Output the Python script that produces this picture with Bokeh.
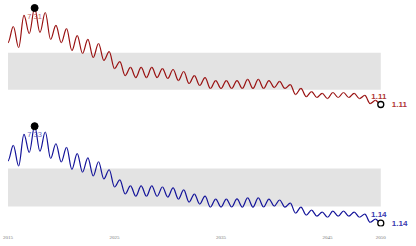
from bokeh.plotting import figure
from bokeh.models import BoxAnnotation, Label, Range1d, FixedTicker, ColumnDataSource
from bokeh.layouts import column
from bokeh.embed import file_html
from bokeh.resources import INLINE

# ---- data ----
years = list(range(2015, 2051))            # January values (seasonal lows)
peak_offset = 0.5                          # mid-year seasonal highs
tick_years = [2015, 2025, 2035, 2045, 2050]

top_lows = [5.09, 4.77, 5.67, 5.74, 5.29, 5.09, 4.58, 4.39, 4.13, 3.94, 3.42, 2.97,
            2.84, 2.84, 2.84, 2.78, 2.65, 2.46, 2.33, 2.14, 2.14, 2.14, 2.14, 2.14,
            2.14, 2.20, 2.14, 1.75, 1.62, 1.56, 1.49, 1.56, 1.56, 1.49, 1.17, 1.11]
top_highs = [6.12, 6.83, 7.31, 7.02, 6.19, 5.99, 5.54, 5.29, 5.03, 4.51, 3.87, 3.49,
             3.49, 3.49, 3.42, 3.36, 3.23, 2.97, 2.84, 2.65, 2.65, 2.65, 2.72, 2.72,
             2.65, 2.59, 2.39, 2.14, 1.94, 1.82, 1.88, 1.88, 1.82, 1.69, 1.37]
top_band = [2.05, 4.43]

bot_lows = [5.12, 4.80, 5.66, 5.73, 5.28, 5.05, 4.58, 4.40, 4.16, 3.97, 3.46, 3.01,
            2.87, 2.87, 2.86, 2.81, 2.68, 2.49, 2.36, 2.17, 2.17, 2.18, 2.17, 2.17,
            2.18, 2.23, 2.17, 1.78, 1.66, 1.59, 1.52, 1.59, 1.59, 1.52, 1.20, 1.14]
bot_highs = [6.10, 6.81, 7.33, 6.96, 6.21, 5.98, 5.58, 5.31, 5.06, 4.55, 3.90, 3.52,
             3.52, 3.52, 3.45, 3.39, 3.26, 3.00, 2.87, 2.68, 2.68, 2.69, 2.75, 2.75,
             2.68, 2.62, 2.42, 2.17, 1.97, 1.85, 1.91, 1.91, 1.85, 1.72, 1.40]
bot_band = [2.21, 4.63]

x_range = Range1d(2014.296, 2053.166)


def sequence(lows, highs):
    t, v = [], []
    for i, y in enumerate(years):
        t.append(y); v.append(lows[i])
        if i < len(highs):
            t.append(y + peak_offset); v.append(highs[i])
    return t, v


def curve_source(t, v):
    k = 1 - 2 / 3.141592653589793
    d = dict(x0=[], y0=[], x1=[], y1=[], cx0=[], cy0=[], cx1=[], cy1=[])
    for i in range(len(t) - 1):
        h = t[i + 1] - t[i]
        d["x0"].append(t[i]); d["y0"].append(v[i])
        d["x1"].append(t[i + 1]); d["y1"].append(v[i + 1])
        d["cx0"].append(t[i] + k * h); d["cy0"].append(v[i])
        d["cx1"].append(t[i + 1] - k * h); d["cy1"].append(v[i + 1])
    return ColumnDataSource(d)


def panel(lows, highs, band, color, label_color, y_rng, frame_h, with_axis):
    p = figure(frame_width=414, frame_height=frame_h, x_range=x_range,
               y_range=Range1d(*y_rng), output_backend="svg", toolbar_location=None,
               x_axis_location="below" if with_axis else None, y_axis_location=None,
               min_border_left=0, min_border_right=0, min_border_top=0,
               min_border_bottom=0)
    p.outline_line_color = None
    p.background_fill_color = "white"
    p.border_fill_color = "white"
    p.xgrid.grid_line_color = None
    p.ygrid.grid_line_color = None

    p.add_layout(BoxAnnotation(left=years[0], right=years[-1], bottom=band[0],
                               top=band[1], fill_color="#e3e3e3", fill_alpha=1.0,
                               line_color=None, level="underlay"))

    t, v = sequence(lows, highs)
    imax = max(range(len(v)), key=lambda i: v[i])

    p.bezier(x0="x0", y0="y0", x1="x1", y1="y1", cx0="cx0", cy0="cy0",
             cx1="cx1", cy1="cy1", source=curve_source(t, v), line_color=color,
             line_width=1.2)

    p.add_layout(Label(x=t[imax], y=v[imax], text=f"{v[imax]:.2f}", text_align="center",
                       text_baseline="top", y_offset=-6, text_font="Liberation Sans",
                       text_font_size="7.5px", text_color=label_color, text_alpha=0.8))

    p.scatter([t[imax]], [v[imax]], size=7, fill_color="black", line_color="black")
    p.scatter([t[-1]], [v[-1]], size=6, fill_color="white", line_color="black",
              line_width=1.3)

    p.add_layout(Label(x=t[-1], y=v[-1], text=f"{v[-1]:.2f}", text_align="center",
                       text_baseline="bottom", x_offset=-2, y_offset=6,
                       text_font="Liberation Sans", text_font_style="bold",
                       text_font_size="8px", text_color=label_color))
    p.add_layout(Label(x=t[-1], y=v[-1], text=f"{v[-1]:.2f}", text_align="left",
                       text_baseline="middle", x_offset=11, y_offset=0,
                       text_font="Liberation Sans", text_font_style="bold",
                       text_font_size="8px", text_color=label_color))

    if with_axis:
        ax = p.xaxis[0]
        ax.ticker = FixedTicker(ticks=tick_years)
        ax.axis_line_color = None
        ax.major_tick_line_color = None
        ax.minor_tick_line_color = None
        ax.major_label_text_font = "Liberation Serif"
        ax.major_label_text_font_size = "5px"
        ax.major_label_text_color = "#777777"
        ax.major_label_standoff = 3
    return p


p1 = panel(top_lows, top_highs, top_band, "#991111", "#b03535",
           (0.339, 7.792), 116, False)
p2 = panel(bot_lows, bot_highs, bot_band, "#14149a", "#3a3ab0",
           (0.929, 7.949), 110, True)

layout = column(p1, p2, spacing=0)
open("out.html", "w").write(file_html(layout, INLINE))
